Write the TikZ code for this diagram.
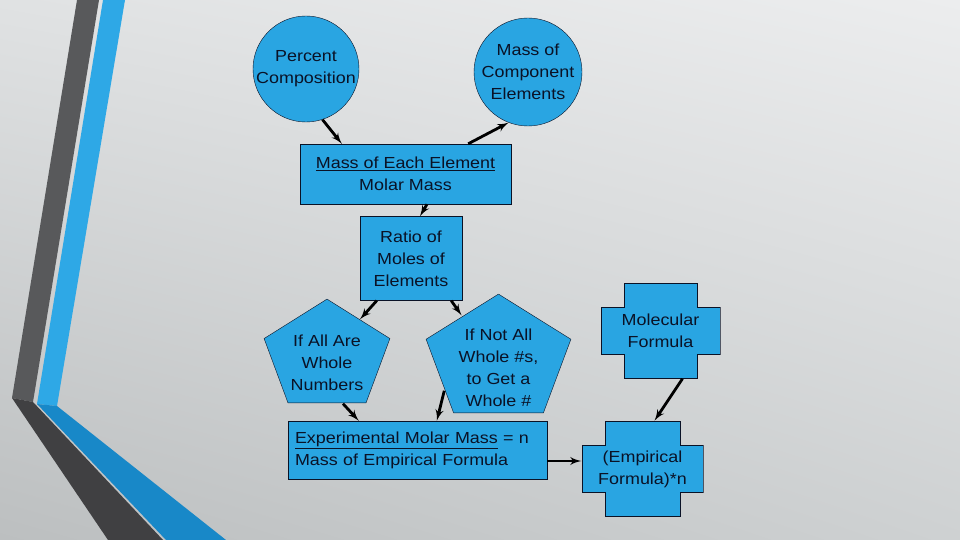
\documentclass[tikz,border=0pt]{standalone}
\usepackage{fontspec}
\setmainfont{Liberation Sans}[FakeStretch=1.12]
\usepackage{tikz}
\usetikzlibrary{shapes,arrows,positioning,calc,shadings}

\definecolor{fondoA}{RGB}{224,226,227}
\definecolor{fondoB}{RGB}{236,237,238}
\definecolor{fondoC}{RGB}{188,191,192}
\definecolor{fondoD}{RGB}{206,209,210}
\definecolor{azul}{RGB}{41,165,226}
\definecolor{marino}{RGB}{10,18,38}
\definecolor{grisosc}{RGB}{88,89,91}
\definecolor{grisneg}{RGB}{64,64,66}
\definecolor{bandaazul}{RGB}{46,168,230}
\definecolor{azulosc}{RGB}{24,136,200}
\newcommand{\letra}{\fontsize{16}{22}\selectfont}

\begin{document}
\begin{tikzpicture}[x=1pt, y=-1pt, >=latex',
    caja/.style={rectangle, draw=marino, fill=azul, text=marino, inner sep=0pt, align=center, font=\letra},
    bola/.style={circle, draw=marino, fill=azul, text=marino, inner sep=-3pt, minimum size=106pt, align=center, font=\letra},
    texto/.style={text=marino, align=center, font=\letra},
    pentagono/.style={rectangle, inner sep=0pt, path picture={
        \path ([shift={(0.6pt,-0.6pt)}]path picture bounding box.north west) coordinate (pa)
              ([shift={(-0.6pt,0.6pt)}]path picture bounding box.south east) coordinate (pb);
        \draw[draw=marino, fill=azul] ($(pa)!0.5!(pa -| pb)$) -- ($(pa -| pb)!0.38!(pb)$) -- ($(pa |- pb)!0.81!(pb)$)
            -- ($(pa |- pb)!0.19!(pb)$) -- ($(pa)!0.38!(pa |- pb)$) -- cycle;}},
    cruz/.style={rectangle, inner sep=0pt, text=marino, align=center, font=\letra, path picture={
        \path ([shift={(0.6pt,-0.6pt)}]path picture bounding box.north west) coordinate (pa)
              ([shift={(-0.6pt,0.6pt)}]path picture bounding box.south east) coordinate (pb);
        \draw[draw=marino, fill=azul] ($(pa)+(23pt,0pt)$) -- ($(pa -| pb)+(-23pt,0pt)$) -- ($(pa -| pb)+(-23pt,-24pt)$)
            -- ($(pa -| pb)+(0pt,-24pt)$) -- ($(pb)+(0pt,24pt)$) -- ($(pb)+(-23pt,24pt)$) -- ($(pb)+(-23pt,0pt)$)
            -- ($(pa |- pb)+(23pt,0pt)$) -- ($(pa |- pb)+(23pt,24pt)$) -- ($(pa |- pb)+(0pt,24pt)$)
            -- ($(pa)+(0pt,-24pt)$) -- ($(pa)+(23pt,-24pt)$) -- cycle;}},
    flecha/.style={line width=2.8pt, ->}]

    % Fondo y bandas
    \useasboundingbox (0,0) rectangle (960,540);
    \shade[upper left=fondoA, upper right=fondoB, lower left=fondoC, lower right=fondoD] (0,0) rectangle (960,540);
    \fill[grisosc] (77,0) -- (99,0) -- (33,402) -- (12,398) -- cycle;
    \fill[grisneg] (12,398) -- (33,402) -- (163,540) -- (108,540) -- cycle;
    \fill[bandaazul] (103,0) -- (125,0) -- (57,406) -- (37,404) -- cycle;
    \fill[azulosc] (37,404) -- (57,406) -- (226,540) -- (166,540) -- cycle;

    % Nodos
    \node [bola] (pct) at (306,69) {Percent\\Composition};
    \node [bola, minimum size=108pt] (comp) at (528,72) {Mass of\\Component\\Elements};
    \node [caja, minimum width=211pt, minimum height=60pt] (mass) at (405.5,174) {\underline{Mass of Each Element}\\Molar Mass};
    \node [caja, minimum width=102pt, minimum height=84pt, below=12pt of mass, xshift=5.5pt] (ratio) {Ratio of\\Moles of\\Elements};
    \node [pentagono, minimum width=127pt, minimum height=105pt,
        label={[texto, yshift=-12pt]center:{If All Are\\Whole\\Numbers}}] (allw) at (327,351) {};
    \node [pentagono, minimum width=146pt, minimum height=120pt,
        label={[texto, yshift=-14.5pt]center:{If Not All\\Whole \#s,\\to Get a\\Whole \#}}] (notall) at (498.5,353.5) {};
    \node [caja, minimum width=259pt, minimum height=58pt, text width=245pt, align=left] (exp) at (417.5,450)
        {\underline{Experimental Molar Mass} = n\\Mass of Empirical Formula};
    \node [cruz, minimum width=120pt, minimum height=96pt] (mol) at (660.5,330.5) {Molecular\\Formula};
    \node [cruz, minimum width=122pt, minimum height=96pt, below=42pt of mol, xshift=-18pt] (emp) {(Empirical\\Formula)*n};

    % Flechas
    \draw[flecha] (pct.-72) -- ([xshift=42pt]mass.north west);
    \draw[flecha] ([xshift=-43pt]mass.north east) -- (comp.-111);
    \draw[flecha] ([xshift=21.5pt]mass.south) -- ([xshift=9pt]ratio.north);
    \draw[flecha] ([xshift=17pt]ratio.south west) -- ([xshift=33pt,yshift=-21pt]allw.north);
    \draw[flecha] ([xshift=-11pt]ratio.south east) -- ([xshift=-37pt,yshift=-22pt]notall.north);
    \draw[flecha] ([xshift=16pt]allw.south) -- ([xshift=71pt]exp.north west);
    \draw[flecha] ([xshift=19pt,yshift=23pt]notall.south west) -- ([xshift=149pt]exp.north west);
    \draw[flecha] ([yshift=-11pt]exp.east) -- ([yshift=-11pt]exp.east -| emp.west);
    \draw[flecha] ([xshift=22pt]mol.south) -- ([xshift=12pt]emp.north);

\end{tikzpicture}
\end{document}
